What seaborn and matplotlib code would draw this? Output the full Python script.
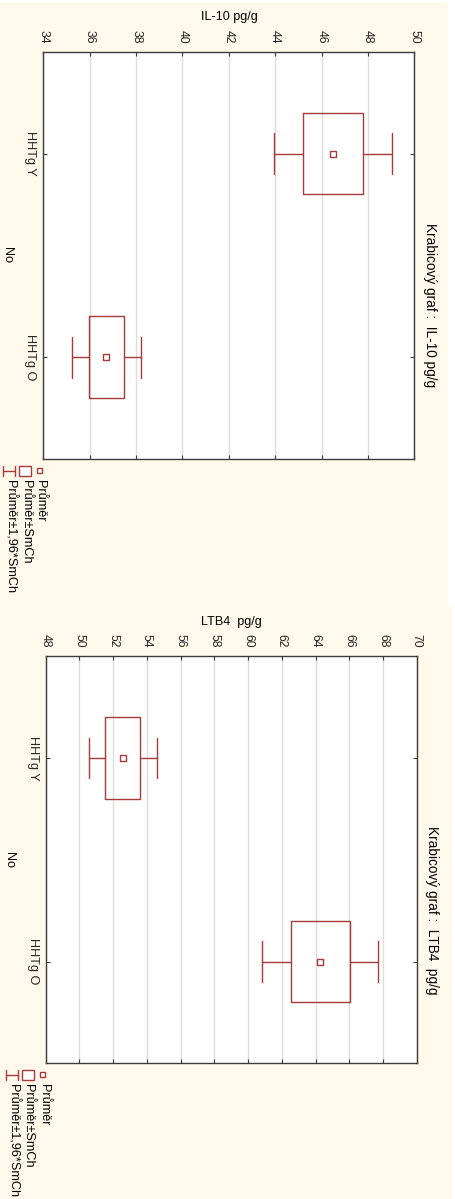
import numpy as np
import pandas as pd
import matplotlib
matplotlib.use("Agg")
import matplotlib.pyplot as plt
from matplotlib.patches import Rectangle
from matplotlib.lines import Line2D
import seaborn as sns

# Group means and standard errors (SmCh) per marker
groups = ["HHTg Y", "HHTg O"]
il10_mean = [46.50, 36.72]
il10_se = [1.30, 0.76]
ltb4_mean = [52.57, 64.28]
ltb4_se = [1.03, 1.75]
il10_ticks = [34, 36, 38, 40, 42, 44, 46, 48, 50]
ltb4_ticks = [48, 50, 52, 54, 56, 58, 60, 62, 64, 66, 68, 70]

legend_labels = ["Průměr", "Průměr±SmCh", "Průměr±1,96*SmCh"]
z_value = 1.96

W, H = 456, 1199
CREAM = "#FFF9EC"
RED = "#A83A3A"
SPINE = "#3C3C3C"
GRID = "#DCDCDC"
FS = 9.1

sns.set_theme(style="white")
plt.rcParams["font.family"] = ["Liberation Sans", "DejaVu Sans"]

fig = plt.figure(figsize=(W / 100, H / 100), dpi=100)
fig.patch.set_facecolor("white")

# pixel-space canvas for the panel backgrounds, captions and legends
canvas = fig.add_axes([0, 0, 1, 1], zorder=0)
canvas.set_xlim(0, W)
canvas.set_ylim(H, 0)
canvas.axis("off")
canvas.add_patch(Rectangle((0, 3), 448, 604, facecolor=CREAM, edgecolor="none"))
canvas.add_patch(Rectangle((0, 607), 452, 592, facecolor=CREAM, edgecolor="none"))


def px_axes(left, top, right, bottom):
    return fig.add_axes([left / W, 1 - bottom / H, (right - left) / W, (bottom - top) / H], zorder=2)


def panel(box, means, ses, ticks, value_label, title, label_pos, no_pos, title_pos,
          cat_pad, legend_org):
    ax = px_axes(*box)
    ax.set_facecolor("white")
    positions = np.arange(len(groups))
    stats = []
    for m, s in zip(means, ses):
        stats.append(dict(med=m, q1=m - s, q3=m + s,
                          whislo=m - z_value * s, whishi=m + z_value * s, fliers=[]))
    ax.bxp(stats, positions=positions, orientation="horizontal", widths=0.4,
           capwidths=0.2, showfliers=False,
           boxprops=dict(color=RED, linewidth=1.0),
           whiskerprops=dict(color=RED, linewidth=1.0),
           capprops=dict(color=RED, linewidth=1.0),
           medianprops=dict(linewidth=0))
    df = pd.DataFrame({"mean": means, "pos": positions})
    sns.scatterplot(data=df, x="mean", y="pos", marker="s", s=14, color="white",
                    edgecolor=RED, linewidth=1.0, ax=ax, zorder=5, legend=False)

    ax.set_xlim(ticks[0], ticks[-1])
    ax.set_ylim(1.5, -0.5)
    ax.set_xticks(ticks)
    ax.set_xticklabels([str(t) for t in ticks], rotation=-90, fontsize=8.7)
    ax.xaxis.set_ticks_position("both")
    ax.tick_params(axis="x", labeltop=True, labelbottom=False, direction="in",
                   length=3, width=0.8, color=SPINE, pad=6)
    ax.set_yticks(positions)
    ax.set_yticklabels(groups, rotation=-90, va="center", ha="right", fontsize=FS)
    ax.tick_params(axis="y", left=True, right=True, direction="in", length=3,
                   width=0.8, color=SPINE, pad=cat_pad)
    ax.xaxis.grid(True, color=GRID, linewidth=1.0)
    ax.yaxis.grid(False)
    ax.set_axisbelow(True)
    ax.set_xlabel("")
    ax.set_ylabel("")
    for sp in ax.spines.values():
        sp.set_visible(True)
        sp.set_color(SPINE)
        sp.set_linewidth(1.0)

    canvas.text(label_pos[0], label_pos[1], value_label, ha="center", va="center",
                fontsize=FS, color="black")
    canvas.text(no_pos[0], no_pos[1], "No", rotation=-90, ha="center", va="center",
                fontsize=FS, color="black")
    canvas.text(title_pos[0], title_pos[1], title, rotation=-90, ha="center",
                va="center", fontsize=9.8, color="black")

    # legend: mean marker, mean ± SE box, mean ± 1.96 SE whisker
    x0, y0 = legend_org
    cols = [x0, x0 - 15, x0 - 30.5]
    canvas.add_patch(Rectangle((cols[0] - 2.5, y0 - 2.5), 5, 5, facecolor="white",
                               edgecolor=RED, linewidth=1.0))
    canvas.add_patch(Rectangle((cols[1] - 6, y0 - 5), 12, 10, facecolor="white",
                               edgecolor=RED, linewidth=1.0))
    canvas.add_line(Line2D([cols[2] - 6, cols[2] + 6], [y0, y0], color=RED, lw=1.0))
    canvas.add_line(Line2D([cols[2] - 6, cols[2] - 6], [y0 - 5, y0 + 5], color=RED, lw=1.0))
    canvas.add_line(Line2D([cols[2] + 6, cols[2] + 6], [y0 - 5, y0 + 5], color=RED, lw=1.0))
    for cx, lab in zip(cols, legend_labels):
        canvas.text(cx + 0.5, y0 + 9, lab, rotation=-90, ha="center", va="top",
                    fontsize=FS, color="black")
    return ax


panel((43.3, 51.7, 414.3, 459.0), il10_mean, il10_se, il10_ticks,
      "IL-10 pg/g", "Krabicový graf :  IL-10 pg/g",
      label_pos=(229, 17), no_pos=(7, 255), title_pos=(430, 305),
      cat_pad=5, legend_org=(40, 470.5))

panel((45.7, 656.3, 416.7, 1063.3), ltb4_mean, ltb4_se, ltb4_ticks,
      "LTB4  pg/g", "Krabicový graf :  LTB4  pg/g",
      label_pos=(231, 622), no_pos=(9, 860), title_pos=(432, 910),
      cat_pad=5, legend_org=(43, 1074.5))

fig.savefig("out.png", dpi=100, facecolor=fig.get_facecolor())
